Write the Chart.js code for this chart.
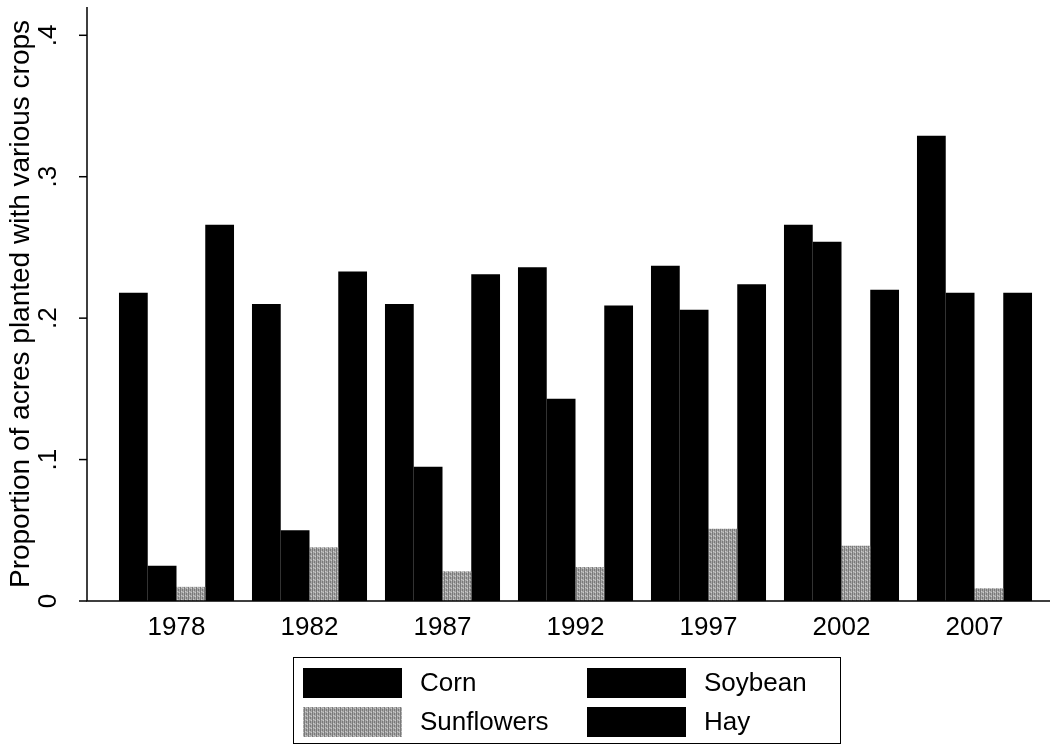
<!DOCTYPE html>
<html>
<head>
<meta charset="utf-8">
<script src="https://cdn.jsdelivr.net/npm/chart.js@4"></script>
<style>
  body { margin: 0; background: #fff; }
  #wrap { width: 1053px; height: 744px; }
</style>
</head>
<body>
<div id="wrap"><canvas id="chart" width="1053" height="744"></canvas></div>
<script>
// data
const years = ['1978', '1982', '1987', '1992', '1997', '2002', '2007'];
const corn = [0.218, 0.210, 0.210, 0.236, 0.237, 0.266, 0.329];
const soybean = [0.025, 0.050, 0.095, 0.143, 0.206, 0.254, 0.218];
const sunflowers = [0.010, 0.038, 0.021, 0.024, 0.051, 0.039, 0.009];
const hay = [0.266, 0.233, 0.231, 0.209, 0.224, 0.220, 0.218];
const yTicks = [0, 0.1, 0.2, 0.3, 0.4];
const yTickLabels = ['0', '.1', '.2', '.3', '.4'];
const yTitle = 'Proportion of acres planted with various crops';

const FONT = '"Liberation Sans", Arial, Helvetica, sans-serif';

// grey speckled fill like the printed sunflower bars
function greyPattern() {
  const c = document.createElement('canvas');
  c.width = 4; c.height = 4;
  const g = c.getContext('2d');
  g.fillStyle = '#a8a8a8';
  g.fillRect(0, 0, 4, 4);
  g.fillStyle = '#7a7a7a';
  g.fillRect(0, 0, 1, 4);
  g.fillRect(2, 1, 1, 2);
  g.fillStyle = '#cccccc';
  g.fillRect(3, 0, 1, 1);
  g.fillRect(1, 3, 1, 1);
  return g.createPattern(c, 'repeat');
}

// Stata-like axes, rotated y labels and the boxed legend
const stataDecor = {
  id: 'stataDecor',
  afterDraw(chart) {
    const ctx = chart.ctx;
    const y = chart.scales.y;
    const axisX = 87;
    const y0 = y.getPixelForValue(0);
    ctx.save();
    ctx.strokeStyle = '#000';
    ctx.lineWidth = 1.5;
    ctx.beginPath();
    ctx.moveTo(axisX, y.getPixelForValue(y.max));
    ctx.lineTo(axisX, y0);
    ctx.lineTo(1050, y0);
    ctx.stroke();

    ctx.fillStyle = '#000';
    ctx.font = '26px ' + FONT;
    ctx.textAlign = 'center';
    ctx.textBaseline = 'alphabetic';
    yTicks.forEach((v, i) => {
      const py = y.getPixelForValue(v);
      ctx.beginPath();
      ctx.moveTo(axisX - 8, py);
      ctx.lineTo(axisX, py);
      ctx.stroke();
      ctx.save();
      ctx.translate(56, py);
      ctx.rotate(-Math.PI / 2);
      ctx.fillText(yTickLabels[i], 0, 0);
      ctx.restore();
    });

    // y title
    ctx.save();
    ctx.font = '28px ' + FONT;
    ctx.translate(29, (y.top + y.bottom) / 2);
    ctx.rotate(-Math.PI / 2);
    ctx.fillText(yTitle, 0, 0);
    ctx.restore();

    // legend
    ctx.lineWidth = 1;
    ctx.strokeRect(293.5, 657.5, 547, 86);
    ctx.font = '26px ' + FONT;
    ctx.textAlign = 'left';
    ctx.textBaseline = 'middle';
    chart.data.datasets.forEach((ds, i) => {
      const col = i % 2, row = Math.floor(i / 2);
      const sx = col === 0 ? 303 : 587;
      const sy = row === 0 ? 668 : 707;
      ctx.fillStyle = ds.backgroundColor;
      ctx.fillRect(sx, sy, 99, 30);
      ctx.fillStyle = '#000';
      ctx.fillText(ds.label, sx + 117, sy + 16);
    });
    ctx.restore();
  }
};

const ctx = document.getElementById('chart').getContext('2d');
new Chart(ctx, {
  type: 'bar',
  data: {
    labels: years,
    datasets: [
      { label: 'Corn', data: corn, backgroundColor: '#000000' },
      { label: 'Soybean', data: soybean, backgroundColor: '#000000' },
      { label: 'Sunflowers', data: sunflowers, backgroundColor: greyPattern() },
      { label: 'Hay', data: hay, backgroundColor: '#000000' }
    ]
  },
  options: {
    responsive: false,
    animation: false,
    layout: { padding: { left: 110, right: 12, top: 7, bottom: 0 } },
    datasets: { bar: { barPercentage: 1, categoryPercentage: 0.865 } },
    plugins: {
      legend: { display: false },
      tooltip: { enabled: false }
    },
    scales: {
      x: {
        grid: { display: false, drawTicks: false },
        border: { display: false },
        ticks: { color: '#000', padding: 11, font: { family: FONT, size: 26 } },
        afterFit(scale) { scale.height = 143; }
      },
      y: {
        display: false,
        min: 0,
        max: 0.42
      }
    }
  },
  plugins: [stataDecor]
});
</script>
</body>
</html>
